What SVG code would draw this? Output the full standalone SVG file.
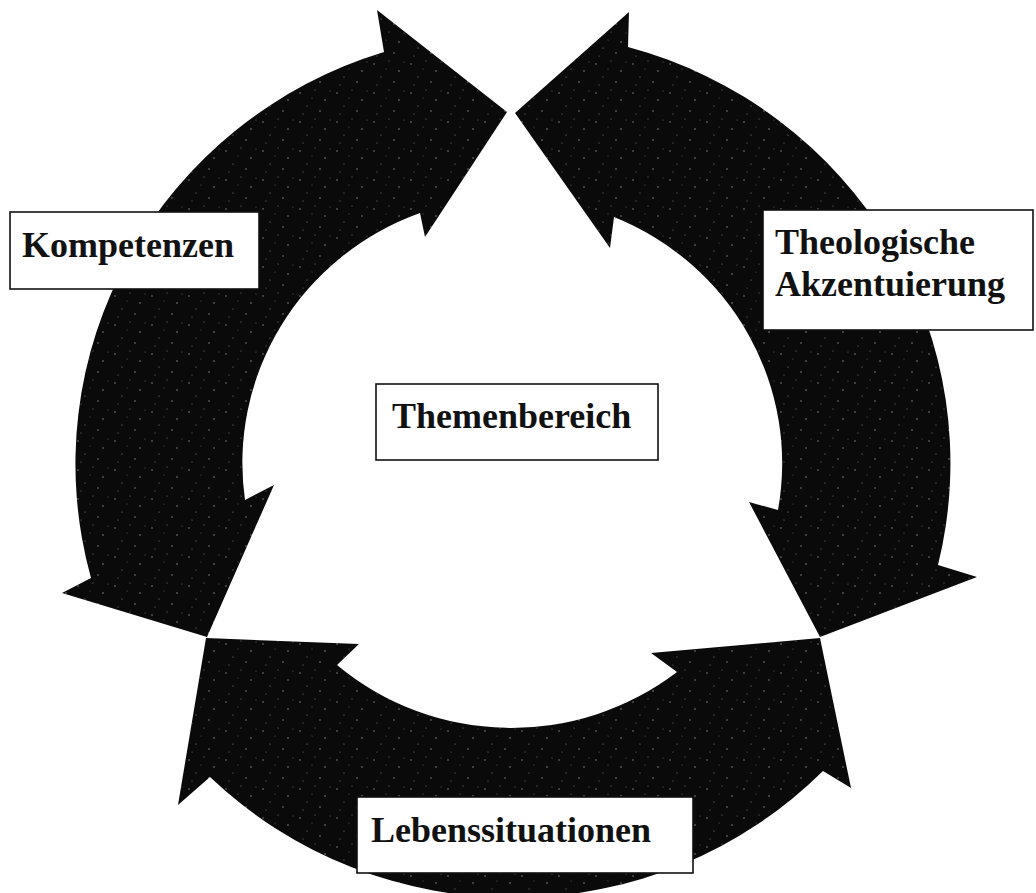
<svg xmlns="http://www.w3.org/2000/svg" width="1036" height="893" viewBox="0 0 1036 893">
  <defs>
    <pattern id="speckle" width="37" height="29" patternUnits="userSpaceOnUse">
      <rect width="37" height="29" fill="#0a0a0a"/>
      <circle cx="4" cy="6" r="0.7" fill="#9a9a9a"/>
      <circle cx="19" cy="3" r="0.6" fill="#7a7a7a"/>
      <circle cx="29" cy="13" r="0.7" fill="#a0a0a0"/>
      <circle cx="11" cy="19" r="0.6" fill="#888"/>
      <circle cx="24" cy="24" r="0.7" fill="#999"/>
      <circle cx="34" cy="4" r="0.5" fill="#777"/>
      <circle cx="7" cy="27" r="0.5" fill="#888"/>
      <circle cx="16" cy="11" r="0.5" fill="#666"/>
    </pattern>
    <style>
      .arrow { fill: url(#speckle); stroke: none; }
      .box { fill: #ffffff; stroke: #111111; stroke-width: 1.6; }
      .label { font-family: "Liberation Serif", "Times New Roman", serif; font-weight: bold; font-size: 36px; fill: #111111; }
    </style>
  </defs>
  <rect width="1036" height="893" fill="#ffffff"/>

  <g id="connectors">
    <!-- left arc: Kompetenzen -->
    <path class="arrow" d="M507,112 L377,10 L384,52 A437,431 0 0 0 91,578 L62,593 L207,637 L274,485 L245,500 A270,266 0 0 1 420,213 L425,237 Z"/>
    <!-- right arc: Theologische Akzentuierung -->
    <path class="arrow" d="M515,113 L629,12 L628,47 A437,431 0 0 1 938,565 L977,577 L820,637 L749,502 L778,510 A270,266 0 0 0 614,217 L610,248 Z"/>
    <!-- bottom arc: Lebenssituationen -->
    <path class="arrow" d="M206,638 L359,644 L337,665 A270,266 0 0 0 677,672 L651,653 L820,638 L851,788 L823,771 A437,431 0 0 1 210,777 L178,805 Z"/>
  </g>

  <g id="node-themenbereich">
    <rect class="box" x="376" y="384" width="282" height="76"/>
    <text class="label" x="392" y="428">Themenbereich</text>
  </g>

  <g id="node-kompetenzen">
    <rect class="box" x="10" y="212" width="249" height="77"/>
    <text class="label" x="22" y="257">Kompetenzen</text>
  </g>

  <g id="node-theologische">
    <rect class="box" x="763" y="210" width="270" height="120"/>
    <text class="label" x="775" y="254">Theologische</text>
    <text class="label" x="775" y="296">Akzentuierung</text>
  </g>

  <g id="node-lebenssituationen">
    <rect class="box" x="357" y="797" width="336" height="76"/>
    <text class="label" x="371" y="842">Lebenssituationen</text>
  </g>
</svg>
